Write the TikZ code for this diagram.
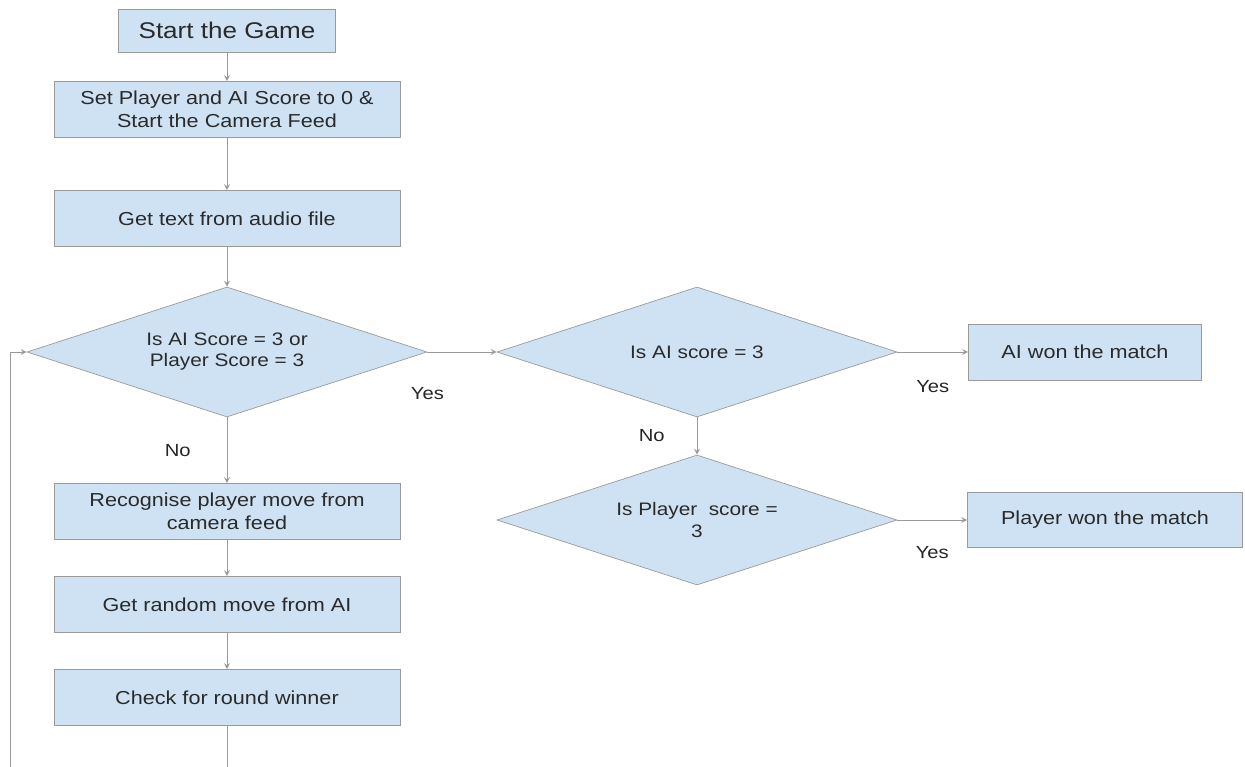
\documentclass[tikz,border=0pt]{standalone}
\usepackage{fontspec}
\setmainfont[FakeStretch=1.15]{Liberation Sans}
\usepackage{tikz}
\usetikzlibrary{arrows,positioning,calc,shapes}
\usepackage{xcolor}
\definecolor{boxblue}{HTML}{CFE2F3}
\definecolor{edgegray}{HTML}{9A9A9A}
\definecolor{textgray}{HTML}{2A2A2A}

\tikzset{
  procbox/.style={rectangle, draw=edgegray, fill=boxblue, text=textgray, inner sep=0pt,
    minimum width=6.92cm, minimum height=1.12cm, align=center,
    font=\fontsize{10.7}{12.8}\selectfont},
  decide/.style={diamond, draw=edgegray, fill=boxblue, text=textgray, inner sep=0pt,
    minimum width=8cm, minimum height=2.6cm, aspect=3, align=center,
    font=\fontsize{10.3}{12}\selectfont},
  flow/.style={draw=edgegray, line width=0.5pt, ->, >=stealth},
  answer/.style={font=\fontsize{10}{12}\selectfont, text=black!85}
}

\begin{document}
\begin{tikzpicture}[node distance=1.86cm]
  \useasboundingbox (0,0) rectangle (24.9,-15.34);

  \node (start) [procbox, minimum width=4.34cm, minimum height=0.86cm,
    font=\fontsize{12.9}{15}\selectfont] at (4.54,-0.61) {Start the Game};
  \node (reset) [procbox, node distance=1.58cm, below of=start] {Set Player and AI Score to 0 \&\\Start the Camera Feed};
  \node (audio) [procbox, node distance=2.18cm, below of=reset] {Get text from audio file};
  \node (over) [decide, node distance=2.67cm, below of=audio] {Is AI Score = 3 or\\Player Score = 3};
  \node (recog) [procbox, node distance=3.19cm, below of=over] {Recognise player move from\\camera feed};
  \node (aimove) [procbox, below of=recog] {Get random move from AI};
  \node (round) [procbox, below of=aimove] {Check for round winner};

  \node (aicheck) [decide, node distance=9.4cm, right of=over] {Is AI score = 3};
  \node (plcheck) [decide, node distance=3.36cm, below of=aicheck] {Is Player\ \ score =\\3};
  \node (aiwon) [procbox, minimum width=4.66cm, node distance=7.76cm, right of=aicheck] {AI won the match};
  \node (plwon) [procbox, minimum width=5.5cm, minimum height=1.1cm, node distance=8.16cm, right of=plcheck] {Player won the match};

  % loop back to the check
  \coordinate (loopin) at (0.2,-15.34);

  \draw[flow] (start) -- (reset);
  \draw[flow] (reset) -- (audio);
  \draw[flow] (audio) -- (over);
  \draw[flow] (over) -- (recog) node[answer, midway, left=0.6cm] {No};
  \draw[flow] (recog) -- (aimove);
  \draw[flow] (aimove) -- (round);
  \draw[flow, -] (round) -- (round |- loopin);
  \draw[flow] (loopin) |- (over);

  \draw[flow] (over) -- (aicheck) node[answer, at start, below=0.58cm] {Yes};
  \draw[flow] (aicheck) -- (plcheck) node[answer, midway, left=0.52cm] {No};
  \draw[flow] (aicheck) -- (aiwon) node[answer, midway, below=0.45cm] {Yes};
  \draw[flow] (plcheck) -- (plwon) node[answer, midway, below=0.4cm] {Yes};
\end{tikzpicture}
\end{document}
